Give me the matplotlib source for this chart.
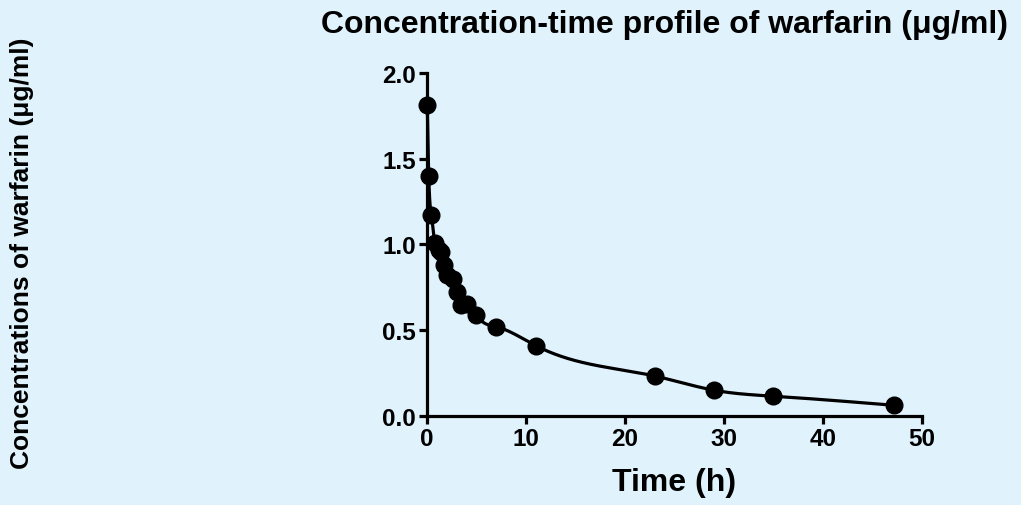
import numpy as np
import matplotlib
matplotlib.use("Agg")
import matplotlib.pyplot as plt

plt.rcParams['font.family'] = ['Liberation Sans', 'DejaVu Sans']
plt.rcParams['font.weight'] = 'bold'

# sampling times (h) and warfarin concentrations (ug/ml)
time_h = [0.05, 0.2, 0.47, 0.8, 1.2, 1.45, 1.7, 2.0, 2.6, 3.05, 3.5, 4.05, 5.0, 7.0, 11.0, 23.0, 29.0, 35.0, 47.2]
conc = [1.81, 1.40, 1.17, 1.01, 0.97, 0.955, 0.88, 0.82, 0.80, 0.72, 0.645, 0.655, 0.59, 0.52, 0.41, 0.233, 0.15, 0.115, 0.062]

x_ticks = [0, 10, 20, 30, 40, 50]
y_ticks = [0.0, 0.5, 1.0, 1.5, 2.0]

bg = '#e0f2fc'


def natural_spline(x, y, n=2000):
    # natural cubic spline through the points, solved with numpy
    x = np.asarray(x, float)
    y = np.asarray(y, float)
    k = len(x)
    h = np.diff(x)
    A = np.zeros((k, k))
    b = np.zeros(k)
    A[0, 0] = A[-1, -1] = 1
    for i in range(1, k - 1):
        A[i, i - 1] = h[i - 1]
        A[i, i] = 2 * (h[i - 1] + h[i])
        A[i, i + 1] = h[i]
        b[i] = 3 * ((y[i + 1] - y[i]) / h[i] - (y[i] - y[i - 1]) / h[i - 1])
    c = np.linalg.solve(A, b)
    xs = np.linspace(x[0], x[-1], n)
    idx = np.clip(np.searchsorted(x, xs) - 1, 0, k - 2)
    dx = xs - x[idx]
    bb = (y[idx + 1] - y[idx]) / h[idx] - h[idx] * (2 * c[idx] + c[idx + 1]) / 3
    dd = (c[idx + 1] - c[idx]) / (3 * h[idx])
    ys = y[idx] + bb * dx + c[idx] * dx ** 2 + dd * dx ** 3
    return xs, ys


fig = plt.figure(figsize=(10.21, 5.06), dpi=100, facecolor=bg)
ax = fig.add_axes([0.418, 0.176, 0.485, 0.678], facecolor=bg)

cx, cy = natural_spline(time_h, conc)
ax.plot(cx, cy, color='black', lw=2.3, clip_on=False)
ax.plot(time_h, conc, 'o', color='black', ms=12, clip_on=False)

ax.set_xlim(0, 50)
ax.set_ylim(0, 2.0)
ax.set_xticks(x_ticks)
ax.set_yticks(y_ticks)
ax.set_yticklabels(['%.1f' % v for v in y_ticks])
for s in ['top', 'right']:
    ax.spines[s].set_visible(False)
for s in ['left', 'bottom']:
    ax.spines[s].set_linewidth(2.3)
ax.tick_params(width=2.3, length=6, labelsize=17.5, pad=2)
for lab in ax.get_xticklabels() + ax.get_yticklabels():
    lab.set_fontweight('bold')

ax.set_xlabel('Time (h)', fontsize=23, fontweight='bold', labelpad=12)
fig.text(0.022, 0.5, 'Concentrations of warfarin (μg/ml)', rotation=90,
         ha='center', va='center', fontsize=19, fontweight='bold')
fig.text(0.651, 0.950, 'Concentration-time profile of warfarin (μg/ml)',
         ha='center', va='center', fontsize=23, fontweight='bold')

fig.savefig('out.png', dpi=100, facecolor=bg)
